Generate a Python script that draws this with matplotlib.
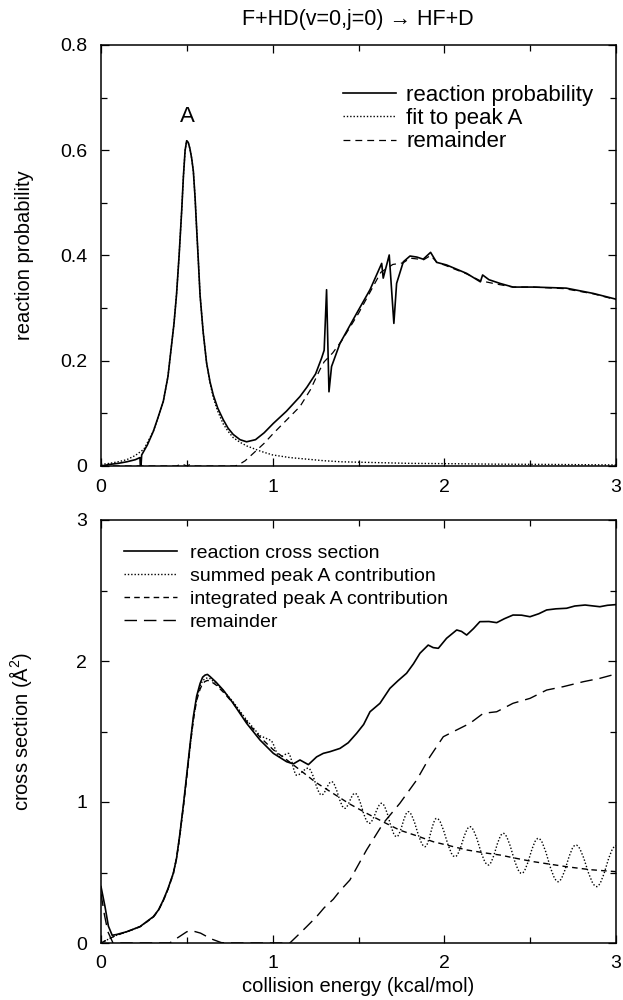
import matplotlib
matplotlib.use("Agg")
import matplotlib.pyplot as plt
from matplotlib.path import Path
from matplotlib.patches import PathPatch
from matplotlib.lines import Line2D

plt.rcParams['font.family'] = ['Liberation Sans', 'DejaVu Sans']
plt.rcParams['mathtext.fontset'] = 'custom'
plt.rcParams['mathtext.rm'] = 'Liberation Sans'

# ---------------- upper panel: reaction probability ----------------
prob_e = [0.0, 0.05, 0.1, 0.15, 0.2, 0.227, 0.229, 0.233, 0.237, 0.27, 0.305,
          0.33, 0.363, 0.39, 0.411, 0.425, 0.44, 0.455, 0.47, 0.48, 0.49, 0.499,
          0.508, 0.518, 0.528, 0.538, 0.548, 0.557, 0.567, 0.577, 0.595, 0.615,
          0.635, 0.654, 0.68, 0.712, 0.74, 0.77, 0.81, 0.848, 0.9, 0.95, 1.004,
          1.08, 1.159, 1.2, 1.25, 1.285, 1.30, 1.314, 1.328, 1.343, 1.392,
          1.489, 1.567, 1.635, 1.644, 1.679, 1.706, 1.722, 1.761, 1.80, 1.84,
          1.877, 1.92, 1.955, 2.013, 2.13, 2.21, 2.223, 2.26, 2.324, 2.40, 2.52,
          2.71, 2.867, 3.0]
prob_total = [0.0, 0.003, 0.005, 0.008, 0.012, 0.016, 0.0, 0.0, 0.021, 0.04, 0.066,
              0.09, 0.123, 0.17, 0.23, 0.27, 0.326, 0.40, 0.485, 0.55, 0.60, 0.618,
              0.615, 0.603, 0.585, 0.56, 0.51, 0.452, 0.39, 0.325, 0.255, 0.196,
              0.16, 0.135, 0.11, 0.088, 0.072, 0.060, 0.05, 0.046, 0.05, 0.063, 0.081,
              0.104, 0.132, 0.15, 0.175, 0.205, 0.22, 0.335, 0.141, 0.189, 0.233,
              0.29, 0.335, 0.385, 0.357, 0.401, 0.271, 0.347, 0.388, 0.399, 0.397,
              0.393, 0.406, 0.387, 0.382, 0.366, 0.35, 0.363, 0.354, 0.347, 0.340,
              0.340, 0.338, 0.328, 0.317]

fit_e = [0.0, 0.05, 0.1, 0.15, 0.2, 0.25, 0.305, 0.33, 0.363, 0.39, 0.411, 0.425,
         0.44, 0.455, 0.47, 0.48, 0.49, 0.499, 0.508, 0.518, 0.528, 0.538, 0.548,
         0.557, 0.567, 0.577, 0.595, 0.615, 0.635, 0.654, 0.68, 0.712, 0.74,
         0.77, 0.81, 0.85, 0.93, 1.0, 1.1, 1.2, 1.3, 1.4, 1.6, 1.8, 2.0, 2.3,
         2.6, 3.0]
fit_peak_a = [0.003, 0.005, 0.008, 0.012, 0.02, 0.032, 0.066, 0.09, 0.123, 0.17,
              0.23, 0.27, 0.326, 0.40, 0.485, 0.55, 0.60, 0.618, 0.615, 0.603,
              0.585, 0.56, 0.51, 0.452, 0.39, 0.325, 0.255, 0.196, 0.158, 0.13,
              0.104, 0.08, 0.066, 0.054, 0.045, 0.038, 0.028, 0.021, 0.016, 0.013,
              0.010, 0.008, 0.0065, 0.005, 0.0045, 0.0035, 0.003, 0.002]

rem_e = [0.0, 0.44, 0.47, 0.5, 0.52, 0.55, 0.78, 0.80, 0.84, 0.887, 0.95, 1.004,
         1.08, 1.159, 1.22, 1.275, 1.3, 1.35, 1.4, 1.5, 1.57, 1.63, 1.7, 1.76,
         1.8, 1.88, 1.92, 1.96, 2.0, 2.13, 2.21, 2.3, 2.4, 2.52, 2.7, 2.87, 3.0]
prob_rem = [0.0, 0.0, 0.004, 0.0, 0.003, 0.0, 0.0, 0.002, 0.01, 0.024, 0.043,
            0.062, 0.087, 0.113, 0.145, 0.183, 0.198, 0.215, 0.237, 0.29, 0.332,
            0.368, 0.383, 0.386, 0.395, 0.392, 0.40, 0.386, 0.382, 0.365, 0.352,
            0.346, 0.34, 0.34, 0.337, 0.327, 0.316]

# ---------------- lower panel: cross sections ----------------
cs_e = [0.0, 0.023, 0.043, 0.065, 0.09, 0.15, 0.227, 0.305, 0.335, 0.363, 0.39,
        0.421, 0.44, 0.46, 0.48, 0.5, 0.52, 0.538, 0.557, 0.577, 0.592, 0.606,
        0.62, 0.635, 0.67, 0.712, 0.77, 0.849, 0.926, 1.004, 1.081, 1.12, 1.159,
        1.208, 1.256, 1.295, 1.334, 1.392, 1.44, 1.489, 1.53, 1.567, 1.625,
        1.683, 1.73, 1.78, 1.82, 1.858, 1.906, 1.935, 1.965, 2.013, 2.072, 2.10,
        2.13, 2.17, 2.207, 2.26, 2.305, 2.35, 2.40, 2.45, 2.499, 2.55, 2.596,
        2.65, 2.712, 2.76, 2.82, 2.87, 2.906, 2.95, 3.0]
cs_total = [0.40, 0.26, 0.12, 0.055, 0.06, 0.08, 0.116, 0.187, 0.235, 0.305, 0.385,
            0.494, 0.6, 0.778, 0.98, 1.2, 1.42, 1.605, 1.75, 1.84, 1.885, 1.90,
            1.905, 1.89, 1.85, 1.794, 1.70, 1.557, 1.44, 1.345, 1.286, 1.27, 1.298,
            1.265, 1.32, 1.345, 1.357, 1.38, 1.42, 1.487, 1.55, 1.64, 1.70, 1.806,
            1.86, 1.913, 1.98, 2.055, 2.113, 2.095, 2.09, 2.161, 2.22, 2.21, 2.184,
            2.23, 2.279, 2.28, 2.272, 2.30, 2.326, 2.325, 2.314, 2.335, 2.362,
            2.37, 2.374, 2.39, 2.397, 2.39, 2.385, 2.395, 2.40]

# summed peak A contribution: smooth rise, then oscillation extrema
sum_e_rise = [0.0, 0.08, 0.15, 0.227, 0.305, 0.335, 0.363, 0.39, 0.421, 0.44,
              0.46, 0.48, 0.5, 0.52, 0.538, 0.557, 0.577, 0.592, 0.606, 0.62,
              0.635, 0.67, 0.712, 0.77, 0.849, 0.926]
sum_rise = [0.0, 0.05, 0.08, 0.116, 0.185, 0.233, 0.30, 0.38, 0.49, 0.6,
            0.77, 0.97, 1.19, 1.41, 1.59, 1.73, 1.82, 1.86, 1.875, 1.88,
            1.875, 1.84, 1.79, 1.71, 1.58, 1.47]
sum_e_osc = [0.984, 1.043, 1.091, 1.14, 1.207, 1.285, 1.343, 1.42, 1.479, 1.562,
             1.635, 1.722, 1.790, 1.887, 1.955, 2.062, 2.149, 2.256, 2.343, 2.450,
             2.547, 2.663, 2.766, 2.887, 3.0]
sum_osc = [1.44, 1.32, 1.345, 1.19, 1.24, 1.05, 1.144, 0.955, 1.062, 0.849,
           0.991, 0.754, 0.931, 0.683, 0.884, 0.612, 0.825, 0.553, 0.778, 0.494,
           0.742, 0.435, 0.695, 0.40, 0.69]

int_e = [0.0, 0.08, 0.15, 0.227, 0.305, 0.335, 0.363, 0.39, 0.421, 0.44, 0.46,
         0.48, 0.5, 0.52, 0.538, 0.557, 0.577, 0.592, 0.606, 0.62, 0.635, 0.67,
         0.712, 0.77, 0.849, 0.926, 1.004, 1.081, 1.159, 1.25, 1.353, 1.45, 1.547,
         1.65, 1.741, 1.84, 1.936, 2.03, 2.13, 2.23, 2.324, 2.42, 2.518, 2.61,
         2.712, 2.85, 3.0]
cs_int = [0.0, 0.05, 0.08, 0.115, 0.183, 0.232, 0.30, 0.38, 0.49, 0.6, 0.77,
          0.97, 1.18, 1.40, 1.58, 1.72, 1.80, 1.84, 1.855, 1.862, 1.86, 1.83,
          1.78, 1.70, 1.57, 1.46, 1.37, 1.30, 1.227, 1.14, 1.06, 0.985, 0.92,
          0.855, 0.80, 0.76, 0.718, 0.69, 0.66, 0.64, 0.624, 0.60, 0.577, 0.56,
          0.541, 0.52, 0.506]

csrem_e = [0.0, 0.02, 0.04, 0.07, 0.4, 0.45, 0.5, 0.53, 0.58, 0.64, 0.7, 0.73,
           1.10, 1.159, 1.198, 1.256, 1.30, 1.353, 1.392, 1.45, 1.547, 1.644,
           1.741, 1.839, 1.916, 1.994, 2.072, 2.149, 2.227, 2.305, 2.40, 2.499,
           2.596, 2.693, 2.809, 2.906, 3.0]
cs_rem = [0.35, 0.2, 0.08, 0.0, 0.0, 0.04, 0.08, 0.087, 0.07, 0.03, 0.003, 0.0,
          0.0, 0.069, 0.116, 0.187, 0.25, 0.31, 0.37, 0.447, 0.66, 0.849,
          0.991, 1.156, 1.321, 1.463, 1.511, 1.558, 1.629, 1.64, 1.70, 1.735,
          1.794, 1.818, 1.853, 1.877, 1.908]

x_ticks = [0, 1, 2, 3]
x_ticklabels = ['0', '1', '2', '3']
prob_ticks = [0, 0.2, 0.4, 0.6, 0.8]
prob_ticklabels = ['0', '0.2', '0.4', '0.6', '0.8']
cs_ticks = [0, 1, 2, 3]
cs_ticklabels = ['0', '1', '2', '3']

FS_TICK = 14
FS_LABEL = 14.5
FS_TOPLEG = 16
FS_BOTLEG = 14
FS_TITLE = 15.5
LW = 1.2
DOT = (0, (1.0, 1.4))
DASH_TOP = (0, (5.5, 4.0))
DASH_SHORT = (0, (4.0, 3.0))
DASH_LONG = (0, (9.0, 5.0))

fig = plt.figure(figsize=(6.23, 10.0), dpi=100)
ax1 = fig.add_axes([101 / 623, 1 - 466 / 1000, 515 / 623, 421 / 1000])
ax2 = fig.add_axes([101 / 623, 1 - 943 / 1000, 515 / 623, 423 / 1000])


def style_axes(ax, yticks, ylabels, yminor):
    ax.set_xlim(0, 3)
    ax.set_xticks(x_ticks)
    ax.set_xticklabels(x_ticklabels)
    ax.set_xticks([0.5, 1.5, 2.5], minor=True)
    ax.set_yticks(yticks)
    ax.set_yticklabels(ylabels)
    ax.set_yticks(yminor, minor=True)
    ax.tick_params(which='both', direction='in', top=True, right=True,
                   labelsize=FS_TICK, width=0.9, colors='black')
    ax.tick_params(which='major', length=6)
    ax.tick_params(which='minor', length=4)
    ax.tick_params(axis='x', which='major', pad=9)
    ax.tick_params(axis='y', which='major', pad=10)
    for s in ax.spines.values():
        s.set_linewidth(1.1)


# upper panel
ax1.plot(prob_e, prob_total, color='black', lw=LW)
ax1.plot(fit_e, fit_peak_a, color='black', lw=1.0, linestyle=DOT)
ax1.plot(rem_e, prob_rem, color='black', lw=0.9, linestyle=DASH_TOP)
ax1.set_ylim(0, 0.8)
style_axes(ax1, prob_ticks, prob_ticklabels, [0.1, 0.3, 0.5, 0.7])
ax1.text(0.505, 0.665, 'A', ha='center', va='center', fontsize=FS_TOPLEG)
ax1.set_ylabel('reaction probability', fontsize=FS_LABEL)
ax1.yaxis.set_label_coords(-0.13, 0.5)
top_handles = [Line2D([], [], color='black', lw=LW),
               Line2D([], [], color='black', lw=1.0, linestyle=DOT),
               Line2D([], [], color='black', lw=0.9, linestyle=DASH_TOP)]
ax1.legend(top_handles, ['reaction probability', 'fit to peak A', 'remainder'],
           loc='upper left', bbox_to_anchor=(0.47, 0.905), frameon=False,
           fontsize=FS_TOPLEG, handlelength=2.4, handletextpad=0.45,
           labelspacing=0.1, borderpad=0, borderaxespad=0)

# lower panel
ax2.plot(cs_e, cs_total, color='black', lw=LW)
verts = list(zip(sum_e_rise, sum_rise))
codes = [Path.MOVETO] + [Path.LINETO] * (len(sum_e_rise) - 1)
verts.append((sum_e_osc[0], sum_osc[0]))
codes.append(Path.LINETO)
for i in range(len(sum_e_osc) - 1):
    x0, y0 = sum_e_osc[i], sum_osc[i]
    x1, y1 = sum_e_osc[i + 1], sum_osc[i + 1]
    d = 0.36 * (x1 - x0)
    verts += [(x0 + d, y0), (x1 - d, y1), (x1, y1)]
    codes += [Path.CURVE4] * 3
ax2.add_patch(PathPatch(Path(verts, codes), fill=False, edgecolor='black',
                        lw=1.0, linestyle=DOT))
ax2.plot(int_e, cs_int, color='black', lw=1.0, linestyle=DASH_SHORT)
ax2.plot(csrem_e, cs_rem, color='black', lw=1.0, linestyle=DASH_LONG)
ax2.set_ylim(0, 3)
style_axes(ax2, cs_ticks, cs_ticklabels, [0.5, 1.5, 2.5])
ax2.set_ylabel('cross section (Å$^2$)', fontsize=FS_LABEL)
ax2.yaxis.set_label_coords(-0.13, 0.5)
ax2.set_xlabel('collision energy (kcal/mol)', fontsize=FS_LABEL)
ax2.xaxis.set_label_coords(0.5, -0.08)
bot_handles = [Line2D([], [], color='black', lw=LW),
               Line2D([], [], color='black', lw=1.0, linestyle=DOT),
               Line2D([], [], color='black', lw=1.0, linestyle=DASH_SHORT),
               Line2D([], [], color='black', lw=1.0, linestyle=DASH_LONG)]
ax2.legend(bot_handles, ['reaction cross section', 'summed peak A contribution',
                         'integrated peak A contribution', 'remainder'],
           loc='upper left', bbox_to_anchor=(0.045, 0.942), frameon=False,
           fontsize=FS_BOTLEG, handlelength=2.7, handletextpad=0.67,
           labelspacing=0.27, borderpad=0, borderaxespad=0)

fig.text(358 / 623, 1 - 20 / 1000, 'F+HD(v=0,j=0) \u2192 HF+D', ha='center',
         va='center', fontsize=FS_TITLE)

fig.savefig('out.png', dpi=100)
